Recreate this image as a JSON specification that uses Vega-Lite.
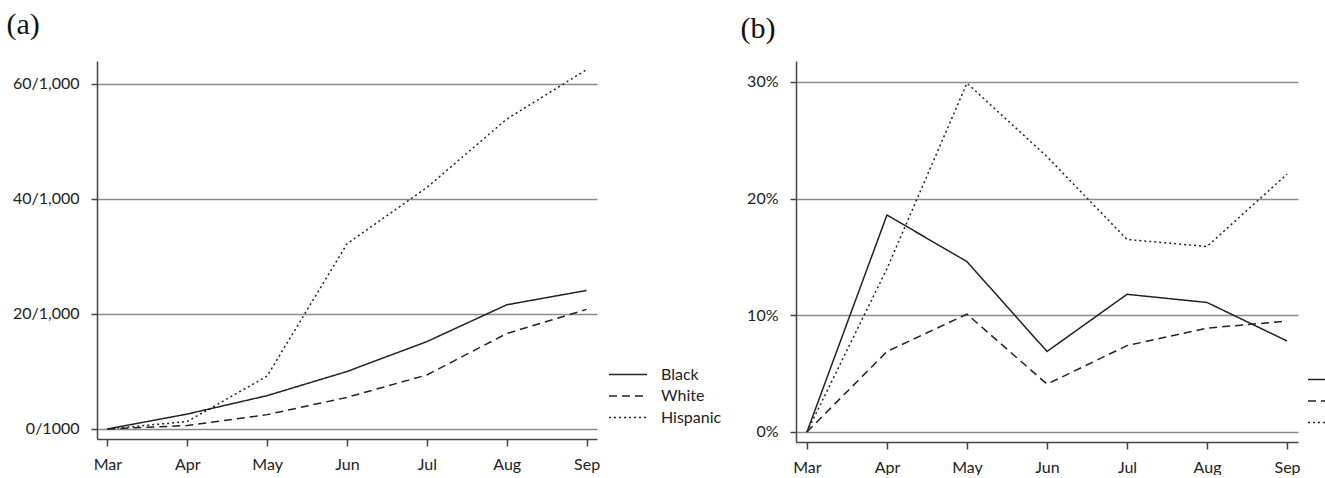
{
  "$schema": "https://vega.github.io/schema/vega-lite/v6.json",
  "background": "white",
  "padding": {"left": 6, "top": 10, "right": 0, "bottom": 0},
  "spacing": 18,
  "resolve": {"scale": {"strokeDash": "independent"}, "legend": {"strokeDash": "independent"}},
  "config": {
    "view": {"stroke": null},
    "font": "Lato",
    "axis": {
      "domainColor": "#444",
      "domainWidth": 1.5,
      "tickColor": "#444",
      "tickWidth": 1.5,
      "tickSize": 6,
      "gridColor": "#8a8a8a",
      "gridWidth": 1.5,
      "labelFont": "Lato",
      "labelFontSize": 16,
      "labelColor": "#222",
      "title": null
    },
    "legend": {
      "labelFont": "Lato",
      "labelFontSize": 16,
      "labelColor": "#222"
    }
  },
  "datasets": {
    "a": [
      {"month": "Mar", "group": "Black", "value": 0},
      {"month": "Apr", "group": "Black", "value": 2.6},
      {"month": "May", "group": "Black", "value": 5.8},
      {"month": "Jun", "group": "Black", "value": 10.0},
      {"month": "Jul", "group": "Black", "value": 15.2},
      {"month": "Aug", "group": "Black", "value": 21.6},
      {"month": "Sep", "group": "Black", "value": 24.1},
      {"month": "Mar", "group": "White", "value": 0},
      {"month": "Apr", "group": "White", "value": 0.6},
      {"month": "May", "group": "White", "value": 2.5},
      {"month": "Jun", "group": "White", "value": 5.5},
      {"month": "Jul", "group": "White", "value": 9.4},
      {"month": "Aug", "group": "White", "value": 16.6},
      {"month": "Sep", "group": "White", "value": 20.8},
      {"month": "Mar", "group": "Hispanic", "value": 0},
      {"month": "Apr", "group": "Hispanic", "value": 1.3},
      {"month": "May", "group": "Hispanic", "value": 9.2},
      {"month": "Jun", "group": "Hispanic", "value": 32.2},
      {"month": "Jul", "group": "Hispanic", "value": 42.0},
      {"month": "Aug", "group": "Hispanic", "value": 53.9},
      {"month": "Sep", "group": "Hispanic", "value": 62.5}
    ],
    "b": [
      {"month": "Mar", "group": "Black", "value": 0},
      {"month": "Apr", "group": "Black", "value": 18.6},
      {"month": "May", "group": "Black", "value": 14.6},
      {"month": "Jun", "group": "Black", "value": 6.9},
      {"month": "Jul", "group": "Black", "value": 11.8},
      {"month": "Aug", "group": "Black", "value": 11.1},
      {"month": "Sep", "group": "Black", "value": 7.8},
      {"month": "Mar", "group": "White", "value": 0},
      {"month": "Apr", "group": "White", "value": 6.9},
      {"month": "May", "group": "White", "value": 10.1},
      {"month": "Jun", "group": "White", "value": 4.1},
      {"month": "Jul", "group": "White", "value": 7.4},
      {"month": "Aug", "group": "White", "value": 8.9},
      {"month": "Sep", "group": "White", "value": 9.5},
      {"month": "Mar", "group": "Hispanic", "value": 0},
      {"month": "Apr", "group": "Hispanic", "value": 14.0},
      {"month": "May", "group": "Hispanic", "value": 29.9},
      {"month": "Jun", "group": "Hispanic", "value": 23.6},
      {"month": "Jul", "group": "Hispanic", "value": 16.5},
      {"month": "Aug", "group": "Hispanic", "value": 15.9},
      {"month": "Sep", "group": "Hispanic", "value": 22.1}
    ]
  },
  "hconcat": [
    {
      "width": 500,
      "height": 378,
      "title": {"text": "(a)", "font": "Liberation Serif", "fontSize": 30, "fontWeight": "normal", "color": "#111", "anchor": "start", "frame": "bounds", "baseline": "bottom", "offset": -9, "dx": -6},
      "data": {"name": "a"},
      "mark": {"type": "line", "color": "#222", "strokeWidth": 1.5},
      "encoding": {
        "x": {"field": "month", "type": "ordinal", "sort": ["Mar", "Apr", "May", "Jun", "Jul", "Aug", "Sep"], "scale": {"type": "point", "padding": 0.13}, "axis": {"labelAngle": 0, "grid": false, "labelPadding": 10, "tickSize": 7}},
        "y": {"field": "value", "type": "quantitative", "scale": {"domain": [-1.74, 64], "nice": false, "zero": false}, "axis": {"values": [0, 20, 40, 60], "grid": true, "labelExpr": "datum.value == 0 ? '0/1000' : datum.value + '/1,000'", "labelPadding": 12}},
        "strokeDash": {"field": "group", "type": "nominal", "scale": {"domain": ["Black", "White", "Hispanic"], "range": [[1, 0], [8, 5], [2, 3]]}, "legend": {"title": null, "orient": "none", "legendX": 520.5, "legendY": 303, "symbolType": "M-2,0H2", "symbolSize": 361, "symbolStrokeWidth": 1.5, "symbolStrokeColor": "#222", "symbolFillColor": "transparent", "labelOffset": 22.5, "padding": 0, "rowPadding": 2.5}}
      }
    },
    {
      "width": 502,
      "height": 381,
      "title": {"text": "(b)", "font": "Liberation Serif", "fontSize": 30, "fontWeight": "normal", "color": "#111", "anchor": "start", "frame": "bounds", "baseline": "bottom", "offset": -13, "dx": -6},
      "data": {"name": "b"},
      "mark": {"type": "line", "color": "#222", "strokeWidth": 1.5},
      "encoding": {
        "x": {"field": "month", "type": "ordinal", "sort": ["Mar", "Apr", "May", "Jun", "Jul", "Aug", "Sep"], "scale": {"type": "point", "padding": 0.137}, "axis": {"labelAngle": 0, "grid": false, "labelPadding": 10, "tickSize": 7}},
        "y": {"field": "value", "type": "quantitative", "scale": {"domain": [-0.86, 31.8], "nice": false, "zero": false}, "axis": {"values": [0, 10, 20, 30], "grid": true, "labelExpr": "datum.value + '%'", "labelPadding": 12}},
        "strokeDash": {"field": "group", "type": "nominal", "scale": {"domain": ["Black", "White", "Hispanic"], "range": [[1, 0], [8, 5], [2, 3]]}, "legend": {"title": null, "orient": "none", "legendX": 520.5, "legendY": 308, "symbolType": "M-2,0H2", "symbolSize": 361, "symbolStrokeWidth": 1.5, "symbolStrokeColor": "#222", "symbolFillColor": "transparent", "labelOffset": 22.5, "padding": 0, "rowPadding": 2.5}}
      }
    }
  ]
}
